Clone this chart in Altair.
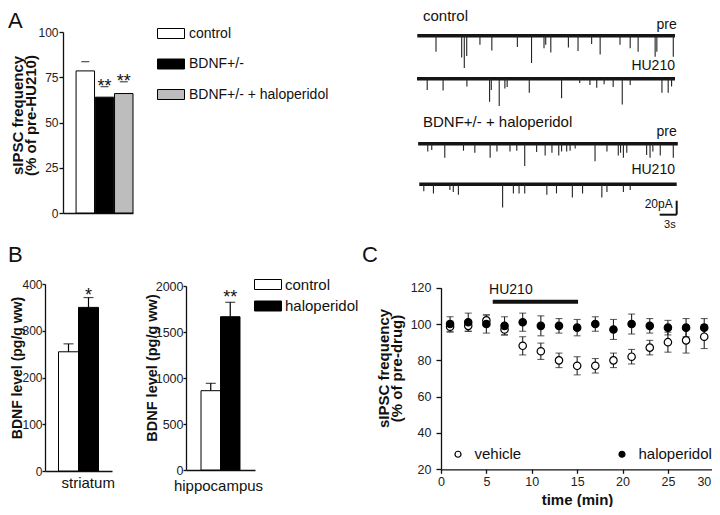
import altair as alt
import pandas as pd

# ======================= DATA =======================
# Panel A - sIPSC frequency after HU210 (% of pre-HU210)
a_groups = ["control", "BDNF+/-", "BDNF+/- + haloperidol"]
a_freq = [78.5, 64.0, 66.0]
a_err_top = [83.6, 69.8, 72.5]
a_sig = ["", "**", "**"]
a_sig_y = [0, 72.2, 75.3]
a_fill = ["white", "black", "#bdbdbd"]
a_ticks = [0, 25, 50, 75, 100]

# Panel A - example current traces (time in s, spike amplitude in pA)
trace_ids = ["control pre", "control HU210", "BDNF+/- + haloperidol pre", "BDNF+/- + haloperidol HU210"]
trace_t0 = [0.05, 0.0, 0.2, 0.4]
trace_t1 = [45.5, 45.5, 46.0, 45.8]
spk_t = [
    [3.35, 7.88, 8.34, 8.77, 11.1, 13.2, 17.7, 20.2, 22.4, 22.7, 23.6, 26.7, 28.4, 30.8, 32.3, 35.8, 37.6, 39.0, 42.0, 42.3, 45.2],
    [1.8, 4.6, 8.8, 12.8, 13.1, 14.5, 15.5, 15.9, 19.8, 25.5, 28.7, 30.5, 31.7, 33.0, 34.6, 36.2, 37.6, 43.2, 44.3, 44.9],
    [1.9, 2.6, 4.9, 8.2, 10.2, 12.9, 14.1, 16.4, 17.6, 19.0, 21.1, 22.6, 23.8, 25.0, 25.5, 26.4, 27.0, 27.9, 31.4, 33.5, 35.5, 35.9, 36.4, 37.0, 40.5, 41.1, 41.6, 42.9, 45.2],
    [1.2, 2.9, 5.8, 6.4, 7.3, 15.1, 17.0, 18.0, 19.0, 22.9, 24.6, 27.4, 29.2, 32.6, 33.5, 36.4, 37.6],
]
spk_amp = [
    [23, 31, 46, 29, 13, 21, 16, 39, 18, 13, 24, 17, 22, 12, 27, 13, 18, 23, 30, 23, 30],
    [16, 17, 11, 33, 16, 39, 14, 12, 20, 28, 6, 9, 13, 8, 12, 37, 9, 20, 20, 11],
    [11, 9, 20, 10, 13, 20, 11, 11, 10, 32, 12, 17, 13, 17, 11, 11, 10, 7, 25, 11, 17, 13, 20, 13, 16, 20, 11, 17, 20],
    [10, 13, 8, 11, 15, 33, 13, 13, 13, 15, 13, 19, 13, 19, 11, 11, 8],
]
scalebar_pA = 20
scalebar_s = 3

# Panel B - BDNF level (pg/g ww)
b_groups = ["control", "haloperidol"]
b_str_mean = [255, 350]
b_str_top = [272, 371]
b_hip_mean = [862, 1666]
b_hip_top = [942, 1823]
b_str_sig, b_str_sig_y = "*", 385
b_hip_sig, b_hip_sig_y = "**", 1929
b_fill = ["white", "black"]
b_str_ticks = [0, 100, 200, 300, 400]
b_hip_ticks = [0, 500, 1000, 1500, 2000]

# Panel C - sIPSC frequency over time (% of pre-drug)
c_series = ["vehicle", "haloperidol"]
c_time = [1, 3, 5, 7, 9, 11, 13, 15, 17, 19, 21, 23, 25, 27, 29]
c_vehicle = [98.5, 99, 102, 97, 88, 85, 80, 77, 77, 80, 82, 87, 90, 91, 93]
c_vehicle_sem = [3, 3, 3, 3, 5, 4.5, 4, 5, 4, 4, 4, 4, 5.5, 7, 6.5]
c_halo = [100, 101, 100, 99, 101, 99, 99, 98, 100, 97, 100, 99, 98, 98, 98]
c_halo_sem = [4, 5, 5, 5, 5, 5.5, 4, 4.5, 4, 5.5, 5.5, 4, 4, 5, 5]
c_hu210 = [5.7, 15.1]
c_x_ticks = [0, 5, 10, 15, 20, 25, 30]
c_y_ticks = [20, 40, 60, 80, 100, 120]

# ======================= LAYOUT (pixels of the 720x515 figure) =======================
W, H = 704, 499
M = 8


def P(v):
    return v - M


FONT = "Liberation Sans"
INK = "#111111"
trace_row = [51, 112.4, 205.3, 263.3]        # trace baselines in the trace panel (pA units)
trace_px_per_s = 5.67

# ======================= PANEL A : bars =======================
df_a = pd.DataFrame({"group": a_groups, "freq": a_freq, "top": a_err_top})
df_a_sig = pd.DataFrame({"group": a_groups, "sig": a_sig, "y": a_sig_y})
df_a_sig = df_a_sig[df_a_sig["sig"] != ""]

xa_scale = alt.Scale(domain=a_groups, range=[P(63), P(133)], paddingInner=0.04, paddingOuter=0.34, align=1)
ya_scale = alt.Scale(domain=[0, 100], range=[P(213), P(32)], nice=False, zero=False)

a_bars = alt.Chart(df_a).mark_bar(stroke="black", strokeWidth=1).encode(
    x=alt.X("group:N", sort=a_groups, scale=xa_scale,
            axis=alt.Axis(orient="bottom", offset=P(213) - H, labels=False, ticks=False, title=None)),
    y=alt.Y("freq:Q", scale=ya_scale,
            axis=alt.Axis(orient="left", offset=-P(63), values=a_ticks, labelFontSize=12,
                          tickSize=4, labelPadding=1,
                          title=["sIPSC frequency", "(% of pre-HU210)"],
                          titleX=-38, titleY=P(115), titleLineHeight=13)),
    fill=alt.Fill("group:N", sort=a_groups, scale=alt.Scale(domain=a_groups, range=a_fill),
                  legend=alt.Legend(orient="none", legendX=P(160.5), legendY=P(33) - 10, title=None,
                                    symbolType="M-1.35,-0.5H1.35V0.5H-1.35Z", symbolSize=400,
                                    symbolStrokeColor="black", symbolStrokeWidth=1,
                                    labelFontSize=14, labelOffset=7.5, rowPadding=12.5,
                                    direction="vertical")),
)
a_caps = alt.Chart(df_a).mark_tick(color="black", size=8, thickness=1.2).encode(
    x=alt.X("group:N", sort=a_groups, scale=xa_scale),
    y=alt.Y("top:Q", scale=ya_scale),
)
a_stars = alt.Chart(df_a_sig).mark_text(fontSize=18, baseline="alphabetic", dy=10, color=INK).encode(
    x=alt.X("group:N", sort=a_groups, scale=xa_scale),
    y=alt.Y("y:Q", scale=ya_scale),
    text="sig:N",
)
panel_a = alt.layer(a_bars, a_caps, a_stars)

# ======================= PANEL A : traces =======================
df_base = pd.DataFrame({"trace": trace_ids, "t0": trace_t0, "t1": trace_t1, "row": trace_row})
spk_rows = []
for i, tid in enumerate(trace_ids):
    for t, a in zip(spk_t[i], spk_amp[i]):
        spk_rows.append({"trace": tid, "t": t, "row": trace_row[i], "bottom": trace_row[i] + a})
df_spk = pd.DataFrame(spk_rows)

xt_scale = alt.Scale(domain=[0, 46], range=[P(417), P(417 + 46 * trace_px_per_s)], nice=False, zero=False)
yt_scale = alt.Scale(domain=[0, 330], range=[P(0), P(231)], nice=False, zero=False)

t_base = alt.Chart(df_base).mark_rule(strokeWidth=3.4, color="#151515").encode(
    x=alt.X("t0:Q", scale=xt_scale, axis=None), x2="t1:Q",
    y=alt.Y("row:Q", scale=yt_scale, axis=None),
)
t_spk = alt.Chart(df_spk).mark_rule(strokeWidth=1.1, color="#222222").encode(
    x=alt.X("t:Q", scale=xt_scale, axis=None),
    y=alt.Y("row:Q", scale=yt_scale, axis=None), y2="bottom:Q",
)
df_tl_left = pd.DataFrame({"text": ["control", "BDNF+/- + haloperidol"], "t": [1.06, 1.06], "y": [22.4, 174.3]})
df_tl_right = pd.DataFrame({"text": ["pre", "HU210", "pre", "HU210"], "t": [45.8, 45.5, 45.8, 45.5],
                            "y": [35.7, 94.3, 188.6, 242.9]})
t_lab_l = alt.Chart(df_tl_left).mark_text(align="left", baseline="middle", fontSize=15, color=INK).encode(
    x=alt.X("t:Q", scale=xt_scale, axis=None), y=alt.Y("y:Q", scale=yt_scale, axis=None), text="text:N")
t_lab_r = alt.Chart(df_tl_right).mark_text(align="right", baseline="middle", fontSize=14, color=INK).encode(
    x=alt.X("t:Q", scale=xt_scale, axis=None), y=alt.Y("y:Q", scale=yt_scale, axis=None), text="text:N")

sb_t_end, sb_y_bottom = 45.8, 306.7
df_sb = pd.DataFrame({"t_end": [sb_t_end], "t_start": [sb_t_end - scalebar_s],
                      "y_bottom": [sb_y_bottom], "y_top": [sb_y_bottom - scalebar_pA]})
sb_v = alt.Chart(df_sb).mark_rule(strokeWidth=2, color=INK).encode(
    x=alt.X("t_end:Q", scale=xt_scale, axis=None),
    y=alt.Y("y_top:Q", scale=yt_scale, axis=None), y2="y_bottom:Q")
sb_h = alt.Chart(df_sb).mark_rule(strokeWidth=2, color=INK).encode(
    x=alt.X("t_start:Q", scale=xt_scale, axis=None), x2="t_end:Q",
    y=alt.Y("y_bottom:Q", scale=yt_scale, axis=None))
df_sb_lab = pd.DataFrame({"text": [f"{scalebar_pA}pA"], "t": [sb_t_end - 0.7], "y": [sb_y_bottom - 15.3]})
df_sb_lab2 = pd.DataFrame({"text": [f"{scalebar_s}s"], "t": [sb_t_end - 1.2], "y": [sb_y_bottom + 14.7]})
sb_lab = alt.Chart(df_sb_lab).mark_text(align="right", baseline="middle", fontSize=12, color=INK).encode(
    x=alt.X("t:Q", scale=xt_scale, axis=None), y=alt.Y("y:Q", scale=yt_scale, axis=None), text="text:N")
sb_lab2 = alt.Chart(df_sb_lab2).mark_text(align="center", baseline="middle", fontSize=11, color=INK).encode(
    x=alt.X("t:Q", scale=xt_scale, axis=None), y=alt.Y("y:Q", scale=yt_scale, axis=None), text="text:N")

panel_traces = alt.layer(t_base, t_spk, t_lab_l, t_lab_r, sb_v, sb_h, sb_lab, sb_lab2)

# ======================= PANEL B =======================
def b_panel(mean, top, sig, sig_y, ticks, dom_max, x0, x1, y0, y1, xlabel, title_dx, xlabel_x, xlabel_dy,
            legend, pad_outer, star_size, label_size, title_size):
    df = pd.DataFrame({"group": b_groups, "mean": mean, "top": top})
    df_sig = pd.DataFrame({"group": [b_groups[1]], "sig": [sig], "y": [sig_y]})
    xs = alt.Scale(domain=b_groups, range=[P(x0), P(x1)], paddingInner=0, paddingOuter=pad_outer)
    ys = alt.Scale(domain=[0, dom_max], range=[P(y0), P(y1)], nice=False, zero=False)
    bars = alt.Chart(df).mark_bar(stroke="black", strokeWidth=1).encode(
        x=alt.X("group:N", sort=b_groups, scale=xs,
                axis=alt.Axis(orient="bottom", offset=P(y0) - H, labels=False, ticks=False,
                              title=xlabel, titleFontWeight="normal", titleFontSize=15,
                              titleX=P(xlabel_x), titleY=xlabel_dy, titleBaseline="middle")),
        y=alt.Y("mean:Q", scale=ys,
                axis=alt.Axis(orient="left", offset=-P(x0), values=ticks, format="d", labelFontSize=label_size,
                              tickSize=3, labelPadding=0,
                              title="BDNF level (pg/g ww)", titleFontSize=title_size,
                              titleX=title_dx, titleY=P(367.5))),
        fill=alt.Fill("group:N", sort=b_groups, scale=alt.Scale(domain=b_groups, range=b_fill), legend=legend),
    )
    stems = alt.Chart(df).mark_rule(color="black", strokeWidth=1.2).encode(
        x=alt.X("group:N", sort=b_groups, scale=xs),
        y=alt.Y("mean:Q", scale=ys), y2="top:Q")
    caps = alt.Chart(df).mark_tick(color="black", size=10, thickness=1.2).encode(
        x=alt.X("group:N", sort=b_groups, scale=xs),
        y=alt.Y("top:Q", scale=ys))
    stars = alt.Chart(df_sig).mark_text(fontSize=star_size, baseline="alphabetic", dy=10, color=INK).encode(
        x=alt.X("group:N", sort=b_groups, scale=xs),
        y=alt.Y("y:Q", scale=ys), text="sig:N")
    return alt.layer(bars, stems, caps, stars)


b_legend = alt.Legend(orient="none", legendX=P(257.5), legendY=P(284) - 10, title=None,
                      symbolType="M-1.35,-0.5H1.35V0.5H-1.35Z", symbolSize=400,
                      symbolStrokeColor="black", symbolStrokeWidth=1,
                      labelFontSize=15, labelOffset=6.5, rowPadding=2.5, direction="vertical")
panel_b1 = b_panel(b_str_mean, b_str_top, b_str_sig, b_str_sig_y, b_str_ticks, 400,
                   45, 112, 471, 284, "striatum", -21, 87.7, 11, b_legend, 0.675, 18, 12, 14)
panel_b2 = b_panel(b_hip_mean, b_hip_top, b_hip_sig, b_hip_sig_y, b_hip_ticks, 2000,
                   186, 255, 470, 286, "hippocampus", -27, 218, 15.5, None, 0.77, 18, 12.5, 14.5)

# ======================= PANEL C =======================
rows = []
for s, vals, sems in [("vehicle", c_vehicle, c_vehicle_sem), ("haloperidol", c_halo, c_halo_sem)]:
    for t, v, e in zip(c_time, vals, sems):
        rows.append({"series": s, "time": t, "mean": v, "lo": v - e, "hi": v + e})
df_c = pd.DataFrame(rows)

xc = alt.Scale(domain=[0, 30], range=[P(441), P(713.3)], nice=False, zero=False)
yc = alt.Scale(domain=[20, 120], range=[P(469.3), P(287.7)], nice=False, zero=False)

last_tick = f"datum.value == {c_x_ticks[-1]}"
c_err = alt.Chart(df_c).mark_rule(color="#222222", strokeWidth=1.1).encode(
    x=alt.X("time:Q", scale=xc,
            axis=alt.Axis(orient="bottom", offset=P(469.3) - H, values=c_x_ticks, labelFontSize=12.5,
                          labelAlign={"condition": {"test": last_tick, "value": "right"}, "value": "center"},
                          labelOffset={"condition": {"test": last_tick, "value": -2.5}, "value": 0},
                          title="time (min)", titleX=P(577), titleY=29.7, titleBaseline="middle")),
    y=alt.Y("lo:Q", scale=yc,
            axis=alt.Axis(orient="left", offset=-P(441), values=c_y_ticks, labelFontSize=12.5,
                          tickSize=5, labelPadding=5,
                          title=["sIPSC frequency", "(% of pre-drug)"], titleX=-50, titleY=P(368),
                          titleLineHeight=13)),
    y2="hi:Q",
)
c_cap_lo = alt.Chart(df_c).mark_tick(orient="horizontal", color="#222222", size=7, thickness=1.1).encode(
    x=alt.X("time:Q", scale=xc), y=alt.Y("lo:Q", scale=yc))
c_cap_hi = alt.Chart(df_c).mark_tick(orient="horizontal", color="#222222", size=7, thickness=1.1).encode(
    x=alt.X("time:Q", scale=xc), y=alt.Y("hi:Q", scale=yc))
c_fill = alt.Fill("series:N", sort=c_series, scale=alt.Scale(domain=c_series, range=["white", "black"]),
                  legend=alt.Legend(orient="none", legendX=P(450.5), legendY=P(454) - 7.5, title=None,
                                    symbolType="circle", symbolSize=36, symbolStrokeColor="black",
                                    symbolStrokeWidth=1.2, labelFontSize=15, labelOffset=9,
                                    direction="horizontal", columnPadding=93))
c_pts_v = alt.Chart(df_c[df_c["series"] == "vehicle"]).mark_point(
    shape="circle", filled=True, stroke="black", strokeWidth=1.2, size=55, opacity=1).encode(
    x=alt.X("time:Q", scale=xc), y=alt.Y("mean:Q", scale=yc), fill=c_fill)
c_pts_h = alt.Chart(df_c[df_c["series"] == "haloperidol"]).mark_point(
    shape="circle", filled=True, stroke="black", strokeWidth=1.2, size=55, opacity=1).encode(
    x=alt.X("time:Q", scale=xc), y=alt.Y("mean:Q", scale=yc), fill=c_fill)
df_hu = pd.DataFrame({"start": [c_hu210[0]], "end": [c_hu210[1]], "y": [112.3], "label": ["HU210"],
                      "ly": [118.5], "lx": [5.3]})
c_hu_bar = alt.Chart(df_hu).mark_rule(strokeWidth=4, color=INK).encode(
    x=alt.X("start:Q", scale=xc), x2="end:Q", y=alt.Y("y:Q", scale=yc))
c_hu_lab = alt.Chart(df_hu).mark_text(align="left", baseline="middle", fontSize=14, color=INK).encode(
    x=alt.X("lx:Q", scale=xc), y=alt.Y("ly:Q", scale=yc), text="label:N")
panel_c = alt.layer(c_err, c_cap_lo, c_cap_hi, c_pts_v, c_pts_h, c_hu_bar, c_hu_lab)

# ======================= panel letters =======================
def letter(ch, x, y):
    return alt.Chart(pd.DataFrame({"l": [ch]})).mark_text(
        fontSize=22, align="left", baseline="alphabetic", color=INK).encode(
        x=alt.value(x), y=alt.value(y), text="l:N")


letters = alt.layer(letter("A", 0, P(28)), letter("B", 0, P(262)), letter("C", P(362), P(262)))

chart = alt.layer(panel_a, panel_traces, panel_b1, panel_b2, panel_c, letters).resolve_scale(
    x="independent", y="independent", fill="independent"
).resolve_axis(x="independent", y="independent").resolve_legend(fill="independent").properties(
    width=W, height=H, autosize=alt.AutoSizeParams(type="none"), padding=0
).configure_view(strokeWidth=0).configure_axis(
    grid=False, domainColor=INK, domainWidth=1.3, tickColor=INK, tickWidth=1.3, tickSize=4,
    labelColor="#222222", labelFont=FONT, labelPadding=2,
    titleFont=FONT, titleFontSize=15, titleFontWeight="bold", titleColor=INK,
).configure_legend(labelFont=FONT, labelColor=INK, padding=0).configure_text(font=FONT)

chart.save("out.html", embed_options={"renderer": "svg", "actions": False})
